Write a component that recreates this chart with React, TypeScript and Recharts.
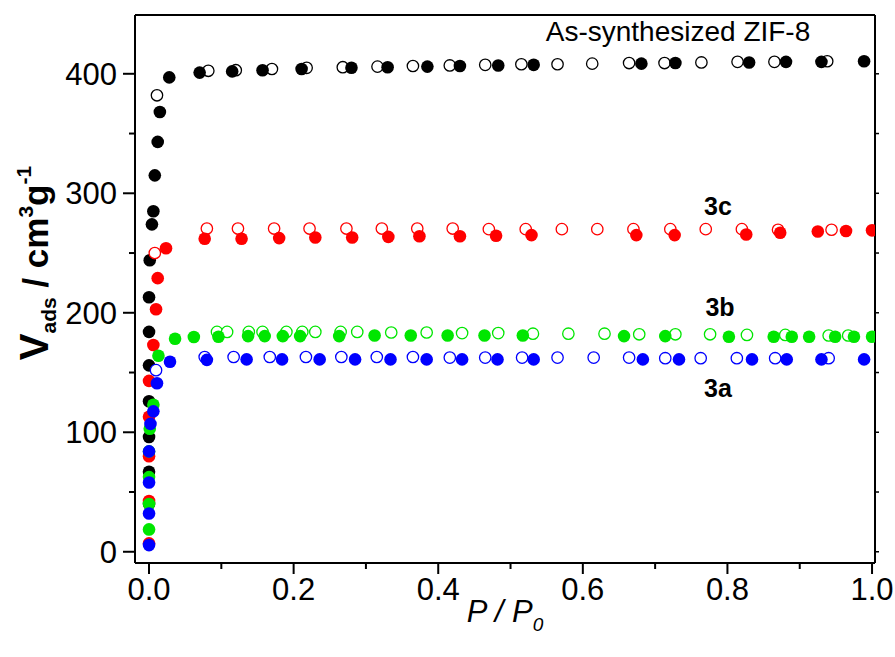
import React from "react";
import { ScatterChart, Scatter, XAxis, YAxis } from "recharts";

// as-synthesized ZIF-8, adsorption (filled) / desorption (open)
const zifAdsX = [0, 0, 0, 0, 0, 0, 0, 0.001, 0.004, 0.006, 0.008, 0.012, 0.015, 0.028, 0.07, 0.115, 0.157, 0.211, 0.28, 0.33, 0.385, 0.43, 0.483, 0.532, 0.681, 0.728, 0.83, 0.881, 0.93, 0.989];
const zifAdsY = [40, 67, 96, 126, 156, 184, 213, 244, 274, 285, 315, 343, 368, 397, 401, 402, 403, 404, 405, 405.5, 406, 406.5, 407, 407.5, 408.5, 409, 409.5, 410, 410, 410.5];
const zifDesX = [0.011, 0.082, 0.12, 0.17, 0.218, 0.268, 0.316, 0.365, 0.416, 0.465, 0.515, 0.565, 0.613, 0.664, 0.713, 0.764, 0.814, 0.865, 0.938];
const zifDesY = [382, 402.5, 403, 404, 405, 405.5, 406, 406.5, 407, 407.5, 408, 408, 408.5, 409, 409, 409.5, 410, 410, 410.5];

// 3c
const c3AdsX = [0, 0, 0, 0, 0, 0.006, 0.0097, 0.012, 0.0235, 0.077, 0.128, 0.18, 0.23, 0.281, 0.331, 0.374, 0.43, 0.48, 0.529, 0.674, 0.727, 0.826, 0.873, 0.925, 0.964, 1.0];
const c3AdsY = [7, 42.5, 80, 113, 143, 173, 203, 229, 254, 262, 262, 262.5, 263, 263, 263.5, 264, 264, 264.5, 265, 265, 265, 265.5, 267, 268, 268.5, 269];
const c3DesX = [0.008, 0.08, 0.123, 0.173, 0.222, 0.273, 0.322, 0.371, 0.42, 0.47, 0.521, 0.571, 0.62, 0.67, 0.721, 0.77, 0.82, 0.87, 0.944];
const c3DesY = [250, 270.5, 270.5, 270.5, 270.5, 270.5, 270.5, 270.5, 270.5, 270, 270, 270, 270, 270, 270, 270, 270, 269.5, 269.5];

// 3b
const c2AdsX = [0, 0, 0, 0, 0.001, 0.006, 0.013, 0.036, 0.062, 0.096, 0.137, 0.16, 0.185, 0.209, 0.263, 0.312, 0.362, 0.413, 0.464, 0.517, 0.657, 0.714, 0.802, 0.864, 0.889, 0.913, 0.949, 0.975, 1.0];
const c2AdsY = [18.7, 40, 62.5, 84, 103, 123, 164, 178.3, 179.7, 180, 180.5, 180.5, 180.5, 180.5, 180.5, 181, 181, 181, 181, 181, 180.5, 180.5, 180, 180, 180, 180, 180, 180, 180];
const c2DesX = [0.094, 0.108, 0.138, 0.157, 0.19, 0.212, 0.23, 0.265, 0.288, 0.335, 0.384, 0.433, 0.483, 0.531, 0.58, 0.63, 0.678, 0.728, 0.776, 0.827, 0.88, 0.94, 0.967];
const c2DesY = [184, 184, 184, 184, 184, 184, 184, 184, 184, 183.5, 183.5, 183, 183, 182.5, 182.5, 182.5, 182, 182, 182, 181.5, 181.5, 181, 181];

// 3a
const c1AdsX = [0, 0, 0, 0, 0.002, 0.006, 0.011, 0.029, 0.08, 0.135, 0.184, 0.236, 0.285, 0.334, 0.384, 0.433, 0.482, 0.532, 0.683, 0.733, 0.834, 0.882, 0.93, 0.989];
const c1AdsY = [5.6, 32, 58, 84, 107, 117.5, 141, 159, 160.6, 161, 161, 161, 161, 161, 161, 161, 161, 161, 161, 161, 161, 161, 161, 161];
const c1DesX = [0.0097, 0.077, 0.117, 0.167, 0.217, 0.266, 0.315, 0.365, 0.416, 0.465, 0.516, 0.565, 0.615, 0.664, 0.714, 0.763, 0.813, 0.866, 0.94];
const c1DesY = [152, 163, 163, 163, 163, 163, 163, 163, 162.5, 162.5, 162.5, 162.5, 162.5, 162.5, 162, 162, 162, 162, 162];

const xTicks = [0, 0.1, 0.2, 0.3, 0.4, 0.5, 0.6, 0.7, 0.8, 0.9, 1.0];
const yTicks = [0, 50, 100, 150, 200, 250, 300, 350, 400];

const toPoints = (xs: number[], ys: number[]) => xs.map((x, i) => ({ x, y: ys[i] }));

const font = "'Liberation Sans', Arial, sans-serif";

const filled = (color: string) => (p: any) => <circle cx={p.cx} cy={p.cy} r={6.3} fill={color} />;
const open = (color: string) => (p: any) => (
  <circle cx={p.cx} cy={p.cy} r={5.7} fill="#fff" stroke={color} strokeWidth={1.3} />
);

const isMajorX = (v: number) => Math.round(v * 10) % 2 === 0;

const BottomTick = (props: any) => {
  const { x, y, payload } = props;
  const major = isMajorX(payload.value);
  return (
    <g>
      <line x1={x} x2={x} y1={y} y2={y + (major ? 11 : 6)} stroke="#000" strokeWidth={2} />
      {major && (
        <text x={x} y={y + 37} textAnchor="middle" fontSize={31} fontFamily={font} fill="#000">
          {payload.value.toFixed(1)}
        </text>
      )}
    </g>
  );
};

const LeftTick = (props: any) => {
  const { x, y, payload } = props;
  const major = payload.value % 100 === 0;
  return (
    <g>
      <line x1={x - (major ? 12 : 6)} x2={x} y1={y} y2={y} stroke="#000" strokeWidth={2} />
      {major && (
        <text x={x - 18} y={y + 11} textAnchor="end" fontSize={31} fontFamily={font} fill="#000">
          {payload.value}
        </text>
      )}
    </g>
  );
};

const TopTick = (props: any) => (
  <line x1={props.x} x2={props.x} y1={props.y} y2={props.y - 4} stroke="#000" strokeWidth={1.5} />
);

const RightTick = (props: any) => (
  <line x1={props.x} x2={props.x + 4} y1={props.y} y2={props.y} stroke="#000" strokeWidth={1.5} />
);

const xDomain = [-0.0194, 1.0041];
const yDomain = [-9.4, 449.2];

export default function App() {
  return (
    <div style={{ position: "absolute", left: 0, top: 0, background: "#fff" }}>
      <ScatterChart width={895} height={657} margin={{ top: 14, right: 19, bottom: 14, left: 55 }}>
        <XAxis
          xAxisId="b"
          dataKey="x"
          type="number"
          domain={xDomain}
          allowDataOverflow
          ticks={xTicks}
          interval={0}
          tickLine={false}
          tickSize={0}
          tickMargin={0}
          tick={<BottomTick />}
          axisLine={{ stroke: "#000", strokeWidth: 2 }}
          height={80}
        />
        <XAxis
          xAxisId="t"
          orientation="top"
          type="number"
          domain={xDomain}
          allowDataOverflow
          ticks={xTicks}
          interval={0}
          tickLine={false}
          tickSize={0}
          tickMargin={0}
          tick={<TopTick />}
          axisLine={{ stroke: "#000", strokeWidth: 2 }}
          height={1}
        />
        <YAxis
          yAxisId="l"
          dataKey="y"
          type="number"
          domain={yDomain}
          allowDataOverflow
          ticks={yTicks}
          interval={0}
          tickLine={false}
          tickSize={0}
          tickMargin={0}
          tick={<LeftTick />}
          axisLine={{ stroke: "#000", strokeWidth: 2 }}
          width={80}
        />
        <YAxis
          yAxisId="r"
          orientation="right"
          type="number"
          domain={yDomain}
          allowDataOverflow
          ticks={yTicks}
          interval={0}
          tickLine={false}
          tickSize={0}
          tickMargin={0}
          tick={<RightTick />}
          axisLine={{ stroke: "#000", strokeWidth: 2 }}
          width={1}
        />

        <Scatter xAxisId="b" yAxisId="l" data={toPoints(zifDesX, zifDesY)} shape={open("#000")} isAnimationActive={false} />
        <Scatter xAxisId="b" yAxisId="l" data={toPoints(zifAdsX, zifAdsY)} shape={filled("#000")} isAnimationActive={false} />
        <Scatter xAxisId="b" yAxisId="l" data={toPoints(c3DesX, c3DesY)} shape={open("#ff0000")} isAnimationActive={false} />
        <Scatter xAxisId="b" yAxisId="l" data={toPoints(c3AdsX, c3AdsY)} shape={filled("#ff0000")} isAnimationActive={false} />
        <Scatter xAxisId="b" yAxisId="l" data={toPoints(c2DesX, c2DesY)} shape={open("#00e600")} isAnimationActive={false} />
        <Scatter xAxisId="b" yAxisId="l" data={toPoints(c2AdsX, c2AdsY)} shape={filled("#00e600")} isAnimationActive={false} />
        <Scatter xAxisId="b" yAxisId="l" data={toPoints(c1DesX, c1DesY)} shape={open("#0000ff")} isAnimationActive={false} />
        <Scatter xAxisId="b" yAxisId="l" data={toPoints(c1AdsX, c1AdsY)} shape={filled("#0000ff")} isAnimationActive={false} />

        <text x={678} y={41} textAnchor="middle" fontSize={28} fontFamily={font} fill="#000">
          As-synthesized ZIF-8
        </text>
        <text x={718} y={215} textAnchor="middle" fontSize={25} fontWeight="bold" fontFamily={font} fill="#000">3c</text>
        <text x={720} y={316} textAnchor="middle" fontSize={25} fontWeight="bold" fontFamily={font} fill="#000">3b</text>
        <text x={718} y={397} textAnchor="middle" fontSize={25} fontWeight="bold" fontFamily={font} fill="#000">3a</text>

        <text x={505} y={622} textAnchor="middle" fontSize={31} fontStyle="italic" fontFamily={font} fill="#000">
          P / P<tspan fontSize={19} dy={9}>0</tspan>
        </text>
        <text transform="translate(48,263) rotate(-90)" textAnchor="middle" fontFamily={font} fontWeight="bold" fill="#000">
          <tspan fontSize={40}>V</tspan>
          <tspan fontSize={21} dy={8}>ads</tspan>
          <tspan fontSize={35} dy={-8}> / cm</tspan>
          <tspan fontSize={21} dy={-15}>3</tspan>
          <tspan fontSize={35} dy={15}>g</tspan>
          <tspan fontSize={21} dy={-17}>-1</tspan>
        </text>
      </ScatterChart>
    </div>
  );
}
